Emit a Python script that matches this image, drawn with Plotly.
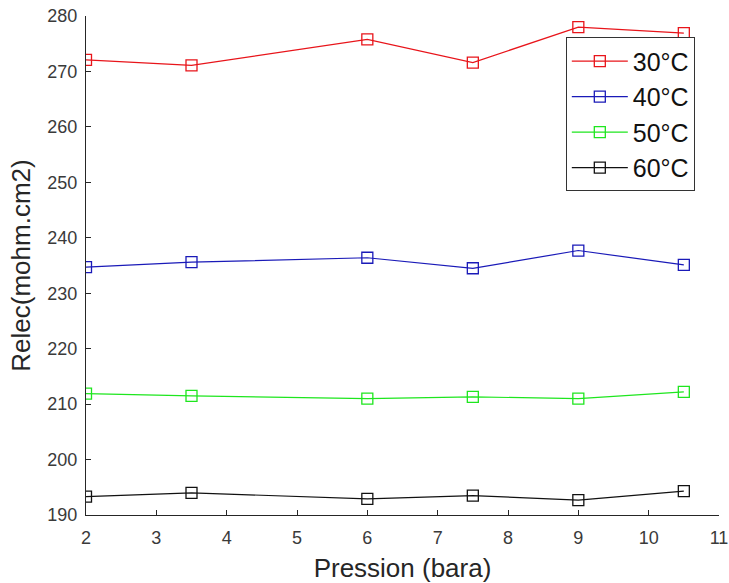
import plotly.graph_objects as go

pression = [2, 3.5, 6, 7.5, 9, 10.5]
r30 = [272.1, 271.1, 275.8, 271.6, 278.0, 276.9]
r40 = [234.7, 235.6, 236.4, 234.5, 237.7, 235.1]
r50 = [211.9, 211.5, 211.0, 211.3, 211.0, 212.2]
r60 = [193.3, 194.0, 192.9, 193.5, 192.7, 194.3]
series = [("30°C", r30, "#e8141a"), ("40°C", r40, "#1a1ab8"),
          ("50°C", r50, "#1ee61e"), ("60°C", r60, "#111111")]
xticks = [2, 3, 4, 5, 6, 7, 8, 9, 10, 11]
yticks = [190, 200, 210, 220, 230, 240, 250, 260, 270, 280]

fig = go.Figure()
for name, vals, col in series:
    fig.add_trace(go.Scatter(
        x=pression, y=vals, name=name, mode="lines+markers",
        line=dict(color=col, width=1.2),
        marker=dict(symbol="square-open", size=11, color=col, line=dict(width=1.3, color=col)),
    ))

axis_common = dict(
    showgrid=False, zeroline=False, showline=True, linecolor="#262626", linewidth=1,
    ticks="inside", ticklen=5, tickcolor="#262626", ticklabeloverflow="allow",
    tickfont=dict(family="Liberation Sans, Arial", size=18, color="#3a3a3a"),
)
fig.update_xaxes(range=[2, 11], tickvals=xticks, ticklabelstandoff=6, **axis_common,
                 title=dict(text="Pression (bara)", standoff=13,
                            font=dict(family="Liberation Sans, Arial", size=26, color="#262626")))
fig.update_yaxes(range=[190, 280], tickvals=yticks, ticklabelstandoff=4, **axis_common,
                 title=dict(text="Relec(mohm.cm2)", standoff=9,
                            font=dict(family="Liberation Sans, Arial", size=26, color="#262626")))

fig.update_layout(
    width=729, height=583,
    margin=dict(l=86, r=10, t=16, b=68, autoexpand=False),
    plot_bgcolor="white", paper_bgcolor="white",
    legend=dict(x=0.758, y=0.957, xanchor="left", yanchor="top",
                bgcolor="white", bordercolor="#333333", borderwidth=1,
                font=dict(family="Liberation Sans, Arial", size=25, color="#111111"),
                tracegroupgap=0, itemwidth=56),
    showlegend=True,
)
fig.write_html("out.html", config={"displayModeBar": False},
               post_script="document.body.style.margin='0';document.body.style.overflow='hidden';")
